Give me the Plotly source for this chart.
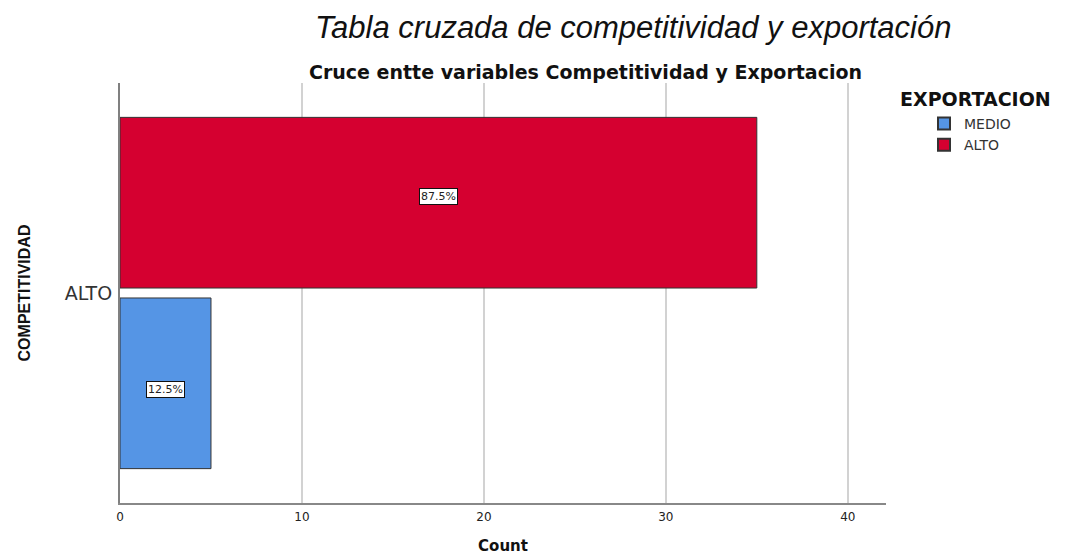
import plotly.graph_objects as go

# ---- data ----
competitividad = ["ALTO"]
exportacion_levels = ["MEDIO", "ALTO"]
counts_medio = [5]
counts_alto = [35]
pct_medio = ["12.5%"]
pct_alto = ["87.5%"]
x_ticks = [0, 10, 20, 30, 40]

colors = {"MEDIO": "#5595E5", "ALTO": "#D50030"}

W, H = 1068, 557
L, R, T, B = 120, 182, 83, 54
PW, PH = W - L - R, H - T - B
SANS = "Liberation Sans, Arial, sans-serif"
WIDE = "DejaVu Sans, Verdana, sans-serif"


def px(x):
    return (x - L) / PW


def py(y):
    return (H - B - y) / PH


fig = go.Figure()
series = [("MEDIO", counts_medio, pct_medio), ("ALTO", counts_alto, pct_alto)]
for name, vals, pcts in series:
    fig.add_trace(go.Bar(
        y=competitividad, x=vals, name=name, orientation="h",
        marker=dict(color=colors[name], line=dict(color="#333333", width=1)),
        hoverinfo="x+name",
    ))

fig.update_layout(
    width=W, height=H,
    margin=dict(l=L, r=R, t=T, b=B, autoexpand=False),
    paper_bgcolor="white", plot_bgcolor="white",
    barmode="group", bargap=0.14, bargroupgap=0.055,
    font=dict(family=WIDE, color="#222222"),
    showlegend=True,
    legend=dict(
        x=px(924), y=py(108),
        xanchor="left", yanchor="top",
        traceorder="normal",
        font=dict(size=14, color="#333333", family=WIDE),
        itemsizing="constant", tracegroupgap=0, itemwidth=30,
        bgcolor="rgba(0,0,0,0)",
    ),
    xaxis=dict(
        range=[0, 42.1], tickvals=x_ticks, ticktext=[str(v) for v in x_ticks],
        showgrid=True, gridcolor="#d2d2d2", gridwidth=2,
        showline=True, linecolor="#888888", linewidth=1.5,
        zeroline=False, ticks="", automargin=False, ticklabelstandoff=2,
        tickfont=dict(size=12, color="#222222", family=WIDE),
        title=dict(text="<b>Count</b>", font=dict(size=15, color="#111111", family=WIDE),
                   standoff=17),
    ),
    yaxis=dict(
        showgrid=False, showline=True, linecolor="#808080", linewidth=2,
        ticks="", automargin=False, ticklabelstandoff=2,
        tickfont=dict(size=19, color="#333333", family=WIDE),
        title=dict(text="<b>COMPETITIVIDAD</b>",
                   font=dict(size=16, color="#111111", family=SANS),
                   standoff=30),
    ),
)

# Percentage labels in white boxes (drawn from data values)
for name, vals, pcts in series:
    for c, v, p in zip(competitividad, vals, pcts):
        fig.add_annotation(
            x=v / 2, y=c, xref="x", yref="y", text=p, showarrow=False,
            yshift=(96.5 if name == "ALTO" else -96.5),
            font=dict(size=11, color="#222222", family=WIDE),
            bgcolor="white", bordercolor="#111111", borderwidth=1, borderpad=1,
        )

# Titles
fig.add_annotation(
    x=px(633), y=py(27), xref="paper", yref="paper",
    text="<i>Tabla cruzada de competitividad y exportación</i>",
    showarrow=False, font=dict(size=31, color="#111111", family=SANS),
    xanchor="center", yanchor="middle",
)
fig.add_annotation(
    x=px(585.5), y=py(72), xref="paper", yref="paper",
    text="<b>Cruce entte variables Competitividad y Exportacion</b>",
    showarrow=False, font=dict(size=19, color="#111111", family=WIDE),
    xanchor="center", yanchor="middle",
)
fig.add_annotation(
    x=px(898), y=py(99), xref="paper", yref="paper",
    text="<b>EXPORTACION</b>", showarrow=False,
    font=dict(size=19, color="#111111", family=WIDE), xanchor="left", yanchor="middle",
)

fig.write_html("out.html", config={"displayModeBar": False},
               post_script="document.body.style.margin='0';")
